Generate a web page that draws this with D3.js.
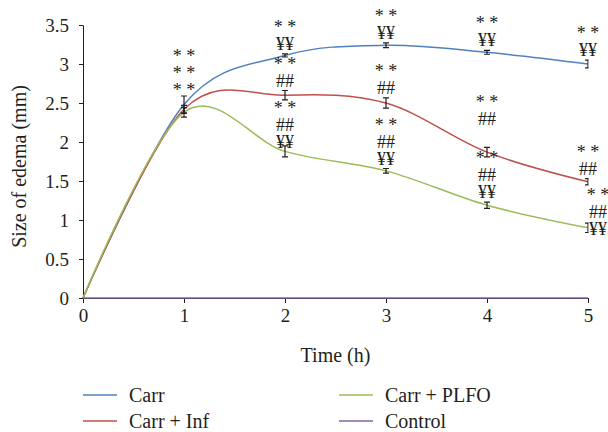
<!DOCTYPE html>
<html>
<head>
<meta charset="utf-8">
<title>Size of edema</title>
<script src="https://cdnjs.cloudflare.com/ajax/libs/d3/7.8.5/d3.min.js"></script>
<style>
  body { margin: 0; background: #fff; }
  .axis path, .axis line { stroke: #231f20; stroke-width: 1; }
  .line { fill: none; stroke-width: 1.5px; }
  .errbar { stroke: #231f20; stroke-width: 1.2; fill: none; }
</style>
</head>
<body>
<div id="chart"></div>
<script>
// time points (h)
var hours = [0, 1, 2, 3, 4, 5];

// edema size (mm)
var carr     = [0, 2.48, 3.11, 3.24, 3.15, 3.00];
var carrErr  = [0, 0.11, 0.02, 0.03, 0.025, 0.05];
var carrInf    = [0, 2.42, 2.60, 2.50, 1.87, 1.49];
var carrInfErr = [0, 0.05, 0.06, 0.065, 0.06, 0.04];
var carrPlfo    = [0, 2.38, 1.88, 1.63, 1.19, 0.90];
var carrPlfoErr = [0, 0.06, 0.07, 0.03, 0.04, 0.06];
var control = [0, 0, 0, 0, 0, 0];

// significance marks above each point
var carrMarks = [[], ["* *", "* *", "* *"], ["* *", "¥¥"], ["* *", "¥¥"], ["* *", "¥¥"], ["* *", "¥¥"]];
var carrInfMarks = [[], [], ["* *", "##"], ["* *", "##"], ["* *", "##"], ["* *", "##"]];
var carrPlfoMarks = [[], [], ["* *", "##", "¥¥"], ["* *", "##", "¥¥"], ["* *", "##", "¥¥"], ["* *", "##", "¥¥"]];

var yTicks = [0, 0.5, 1, 1.5, 2, 2.5, 3, 3.5];
var seriesNames = ["Carr", "Carr + Inf", "Carr + PLFO", "Control"];
var colors = ["#4f81bd", "#c0504d", "#9bbb59", "#8064a2"];

var series = [
  { name: seriesNames[0], values: carr, err: carrErr, marks: carrMarks, color: colors[0] },
  { name: seriesNames[1], values: carrInf, err: carrInfErr, marks: carrInfMarks, color: colors[1] },
  { name: seriesNames[2], values: carrPlfo, err: carrPlfoErr, marks: carrPlfoMarks, color: colors[2] },
  { name: seriesNames[3], values: control, err: null, marks: null, color: colors[3] }
];

var serif = "'Liberation Serif', 'Times New Roman', serif";
var ink = "#231f20";

var margin = { left: 83, top: 25, right: 20, bottom: 134 };
var width = 608 - margin.left - margin.right;
var height = 432 - margin.top - margin.bottom;

var x = d3.scaleLinear().domain([0, 5]).range([0, width]);
var y = d3.scaleLinear().domain([0, 3.5]).range([height, 0]);

var svg = d3.select("#chart").append("svg")
  .attr("width", 608)
  .attr("height", 432)
  .style("font-family", serif);
var g = svg.append("g")
  .attr("transform", "translate(" + margin.left + "," + margin.top + ")");

// plot area clip: the error bar caps at x = 5 are cut in half like in Excel
g.append("clipPath").attr("id", "plotclip")
  .append("rect")
  .attr("x", -2).attr("y", -30)
  .attr("width", width + 2.6).attr("height", height + 40);

// axes
g.append("g").attr("class", "axis")
  .attr("transform", "translate(0," + height + ")")
  .call(d3.axisBottom(x).tickValues(hours).tickSize(5).tickSizeOuter(0).tickPadding(6)
    .tickFormat(function (d) { return String(d); }));
g.append("g").attr("class", "axis")
  .call(d3.axisLeft(y).tickValues(yTicks).tickSize(4).tickSizeOuter(0).tickPadding(10)
    .tickFormat(function (d) { return String(d); }));
g.selectAll(".axis")
  .attr("font-family", serif)
  .attr("font-size", 19);
g.selectAll(".axis text")
  .style("font-family", serif)
  .style("font-size", "19px")
  .attr("fill", ink);

var line = d3.line()
  .x(function (d, i) { return x(hours[i]); })
  .y(function (d) { return y(d); })
  .curve(d3.curveCatmullRom.alpha(0));

var plot = g.append("g").attr("clip-path", "url(#plotclip)");

series.forEach(function (s) {
  plot.append("path")
    .datum(s.values)
    .attr("class", "line")
    .attr("stroke", s.color)
    .attr("stroke-width", s.err ? 1.5 : 2.2)
    .attr("d", line);
});

// error bars
series.forEach(function (s) {
  if (!s.err) return;
  s.values.forEach(function (v, i) {
    if (i === 0) return;
    var cx = x(hours[i]);
    var top = y(v + s.err[i]);
    var bot = y(v - s.err[i]);
    plot.append("path")
      .attr("class", "errbar")
      .attr("d", "M" + cx + "," + top + "V" + bot +
        "M" + (cx - 3) + "," + top + "H" + (cx + 3) +
        "M" + (cx - 3) + "," + bot + "H" + (cx + 3));
  });
});

// significance marks
var lineGap = 17;
series.forEach(function (s, si) {
  if (!s.marks) return;
  s.marks.forEach(function (lines, i) {
    if (!lines.length) return;
    var cx = x(hours[i]);
    var base = y(s.values[i] + s.err[i]) - 4;
    if (i === 1) base += 4;
    if (si === 1 && i === 4) base -= 18; // lifted clear of the green label
    if (si === 2 && i === 2) base += 6;
    if (si === 2 && i === hours.length - 1) {
      // last green label sits to the right of its bar
      cx += 10;
      base = y(s.values[i]) + 7;
    }
    var n = lines.length;
    lines.forEach(function (t, k) {
      g.append("text")
        .attr("x", cx)
        .attr("y", base - (n - 1 - k) * lineGap)
        .attr("text-anchor", "middle")
        .attr("fill", ink)
        .style("font-family", serif)
        .style("font-size", "18px")
        .text(t);
    });
  });
});

// axis titles
g.append("text")
  .attr("x", width / 2)
  .attr("y", height + 64)
  .attr("text-anchor", "middle")
  .attr("fill", ink)
  .style("font-family", serif)
  .style("font-size", "20px")
  .text("Time (h)");
g.append("text")
  .attr("transform", "translate(-57," + (height / 2 + 5) + ") rotate(-90)")
  .attr("text-anchor", "middle")
  .attr("fill", ink)
  .style("font-family", serif)
  .style("font-size", "20px")
  .text("Size of edema (mm)");

// legend
var legend = svg.append("g");
var legendPos = [[83, 395], [83, 421], [339, 395], [339, 421]];
series.forEach(function (s, i) {
  var p = legendPos[i];
  legend.append("line")
    .attr("x1", p[0]).attr("x2", p[0] + 34)
    .attr("y1", p[1]).attr("y2", p[1])
    .attr("stroke", s.color).attr("stroke-width", 1.5);
  legend.append("text")
    .attr("x", p[0] + 46)
    .attr("y", p[1] + 7)
    .attr("fill", ink)
    .style("font-family", serif)
    .style("font-size", "20px")
    .text(s.name);
});
</script>
</body>
</html>
